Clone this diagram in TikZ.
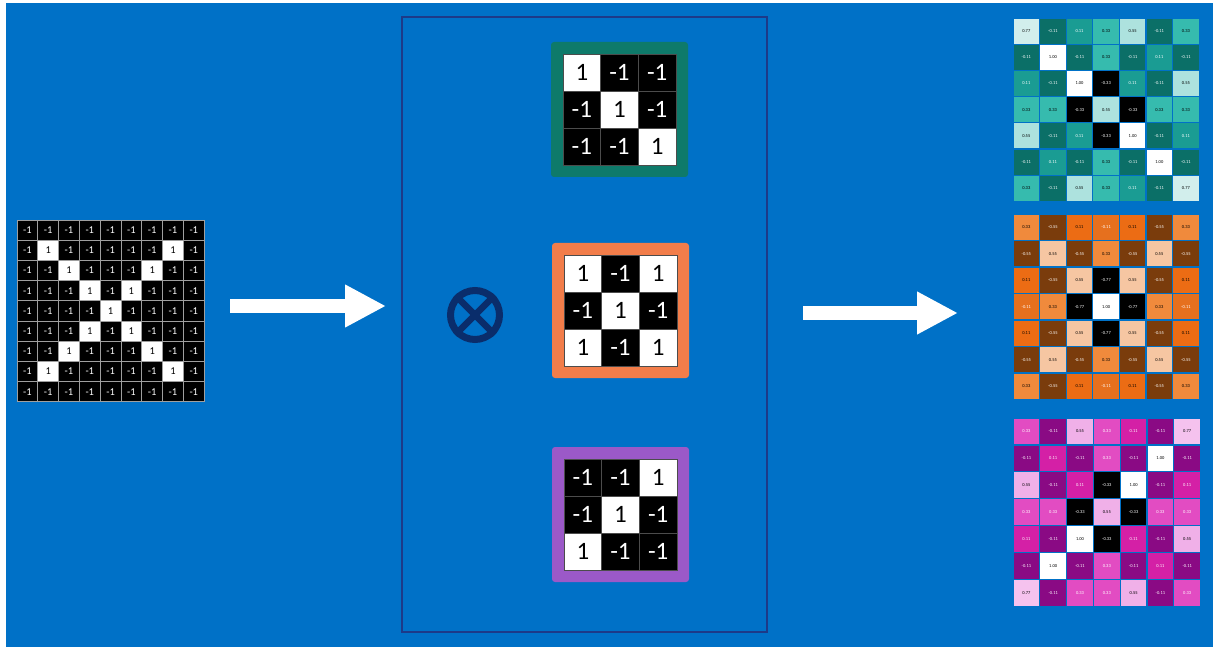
\documentclass[tikz,border=0pt]{standalone}
\usepackage{fontspec}
\setmainfont{Carlito}
\usetikzlibrary{arrows.meta}
\definecolor{bg}{HTML}{0071C7}
\definecolor{navy}{HTML}{1D3A88}
\definecolor{otc}{HTML}{0A2D6B}
\definecolor{kgreen}{HTML}{0E7A6A}
\definecolor{korange}{HTML}{F27D4A}
\definecolor{kpurple}{HTML}{9B59C8}
% teal map
\definecolor{A77}{HTML}{D2EEEC}\definecolor{A55}{HTML}{ADE2DE}\definecolor{A33}{HTML}{36BBAE}
\definecolor{A11}{HTML}{1A9C93}\definecolor{Am11}{HTML}{0B6F67}
% orange map
\definecolor{B55}{HTML}{F6C6A2}\definecolor{B33}{HTML}{F08A3C}\definecolor{B11}{HTML}{EC6C14}
\definecolor{Bm11}{HTML}{E6701E}\definecolor{Bm55}{HTML}{7A3C0C}
% magenta map
\definecolor{C77}{HTML}{F5C2EE}\definecolor{C55}{HTML}{F0B0E8}\definecolor{C33}{HTML}{E24CC2}
\definecolor{C11}{HTML}{D420A6}\definecolor{Cm11}{HTML}{8A0A84}
\newcommand\defcellstyle[4]{\expandafter\def\csname f#1#2\endcsname{#3}\expandafter\def\csname t#1#2\endcsname{#4}}
\defcellstyle{A}{1.00}{white}{black}\defcellstyle{A}{0.77}{A77}{black}\defcellstyle{A}{0.55}{A55}{black}
\defcellstyle{A}{0.33}{A33}{black}\defcellstyle{A}{0.11}{A11}{white}\defcellstyle{A}{-0.11}{Am11}{white}
\defcellstyle{A}{-0.33}{black}{white}
\defcellstyle{B}{1.00}{white}{black}\defcellstyle{B}{0.55}{B55}{black}\defcellstyle{B}{0.33}{B33}{black}
\defcellstyle{B}{0.11}{B11}{black}\defcellstyle{B}{-0.11}{Bm11}{white}\defcellstyle{B}{-0.55}{Bm55}{white}
\defcellstyle{B}{-0.77}{black}{white}
\defcellstyle{C}{1.00}{white}{black}\defcellstyle{C}{0.77}{C77}{black}\defcellstyle{C}{0.55}{C55}{black}
\defcellstyle{C}{0.33}{C33}{white}\defcellstyle{C}{0.11}{C11}{white}\defcellstyle{C}{-0.11}{Cm11}{white}
\defcellstyle{C}{-0.33}{black}{white}
% map drawer: #1 id, #2 x0, #3 y0, #4 pitch x, #5 pitch y, #6 list
\newcommand\drawfmap[6]{%
  \foreach \row [count=\i] in {#6} {%
    \foreach \v [count=\j] in \row {%
      \edef\fc{\csname f#1\v\endcsname}\edef\tc{\csname t#1\v\endcsname}%
      \node[mcell, minimum width=#4-1.2, minimum height=#5-1.2, fill=\fc, text=\tc]
        (#1-\i-\j) at ({#2+(\j-0.5)*#4},{#3+(\i-0.5)*#5}) {\v};
    }%
  }%
}
% kernel drawer: #1 id, #2 frame colour, #3 x0 outer, #4 y0 outer, #5 list
\newcommand\drawkernel[5]{%
  \node[kframe, fill=#2] (#1) at (#3+68.5,#4+67.5) {};
  \foreach \row [count=\i] in {#5} {%
    \foreach \v [count=\j] in \row {%
      \ifnum\v>0 \def\kf{white}\def\kt{black}\else\def\kf{black}\def\kt{white}\fi
      \node[kcell, fill=\kf, text=\kt] (#1-\i-\j) at ({#3+12+(\j-0.5)*37.67},{#4+12+(\i-0.5)*37}) {\v};
    }%
  }%
}
\begin{document}
\begin{tikzpicture}[x=1pt,y=-1pt,
  mcell/.style={rectangle, inner sep=0pt, font=\fontsize{4.5}{5}\selectfont},
  icell/.style={rectangle, draw=gray!75, line width=0.9pt, inner sep=0pt,
    minimum width=20.8pt, minimum height=20.2pt, font=\fontsize{10.5}{11}\selectfont},
  kcell/.style={rectangle, draw=black!70, line width=0.6pt, inner sep=0pt,
    minimum width=37.67pt, minimum height=37pt, font=\fontsize{25}{26}\selectfont},
  kframe/.style={rectangle, rounded corners=3pt, inner sep=0pt, minimum width=137pt, minimum height=135pt},
  bigarrow/.style={white, line width=14pt, -{Triangle[length=41pt,width=40pt]}}
]
\useasboundingbox (0,0) rectangle (1213,647);
\fill[white] (0,0) rectangle (1213,647);
\fill[bg] (6,3) rectangle (1213,647);

% input image 9x9
\foreach \r in {1,...,9} {
  \foreach \c in {1,...,9} {
    \pgfmathtruncatemacro\isone{(((\r==\c)||(\r+\c==10))&&(\r>1)&&(\r<9)&&(\c>1)&&(\c<9))?1:0}
    \ifnum\isone=1 \def\cf{white}\def\ct{black}\def\cv{1}\else\def\cf{black}\def\ct{white}\def\cv{-1}\fi
    \node[icell, fill=\cf, text=\ct] (in-\r-\c) at ({17+(\c-0.5)*20.8},{220+(\r-0.5)*20.2}) {\cv};
  }
}

% middle box
\node[draw=navy, line width=2.5pt, rectangle, minimum width=365pt, minimum height=615pt, inner sep=0pt] (mid) at (584.5,324.5) {};

% kernels
\drawkernel{k1}{kgreen}{551}{42}{{1,-1,-1},{-1,1,-1},{-1,-1,1}}
\drawkernel{k2}{korange}{552}{243}{{1,-1,1},{-1,1,-1},{1,-1,1}}
\drawkernel{k3}{kpurple}{552}{447}{{-1,-1,1},{-1,1,-1},{1,-1,-1}}

% convolution symbol
\node[circle, draw=otc, line width=7pt, minimum size=49pt, inner sep=0pt] (ot) at (475,315) {};
\draw[otc, line width=6.5pt] (ot.north west) -- (ot.south east);
\draw[otc, line width=6.5pt] (ot.north east) -- (ot.south west);

% arrows
\coordinate (a1s) at (230,306);
\coordinate (a1e) at (386,306);
\coordinate (a2s) at (803,313);
\coordinate (a2e) at (958,313);
\draw[bigarrow] (a1s) -- (a1e);
\draw[bigarrow] (a2s) -- (a2e);

% feature maps
\drawfmap{A}{1013}{18}{26.6}{26.2}{%
{0.77,-0.11,0.11,0.33,0.55,-0.11,0.33},%
{-0.11,1.00,-0.11,0.33,-0.11,0.11,-0.11},%
{0.11,-0.11,1.00,-0.33,0.11,-0.11,0.55},%
{0.33,0.33,-0.33,0.55,-0.33,0.33,0.33},%
{0.55,-0.11,0.11,-0.33,1.00,-0.11,0.11},%
{-0.11,0.11,-0.11,0.33,-0.11,1.00,-0.11},%
{0.33,-0.11,0.55,0.33,0.11,-0.11,0.77}}
\drawfmap{B}{1013}{214}{26.6}{26.5}{%
{0.33,-0.55,0.11,-0.11,0.11,-0.55,0.33},%
{-0.55,0.55,-0.55,0.33,-0.55,0.55,-0.55},%
{0.11,-0.55,0.55,-0.77,0.55,-0.55,0.11},%
{-0.11,0.33,-0.77,1.00,-0.77,0.33,-0.11},%
{0.11,-0.55,0.55,-0.77,0.55,-0.55,0.11},%
{-0.55,0.55,-0.55,0.33,-0.55,0.55,-0.55},%
{0.33,-0.55,0.11,-0.11,0.11,-0.55,0.33}}
\drawfmap{C}{1013}{418}{26.8}{26.9}{%
{0.33,-0.11,0.55,0.33,0.11,-0.11,0.77},%
{-0.11,0.11,-0.11,0.33,-0.11,1.00,-0.11},%
{0.55,-0.11,0.11,-0.33,1.00,-0.11,0.11},%
{0.33,0.33,-0.33,0.55,-0.33,0.33,0.33},%
{0.11,-0.11,1.00,-0.33,0.11,-0.11,0.55},%
{-0.11,1.00,-0.11,0.33,-0.11,0.11,-0.11},%
{0.77,-0.11,0.33,0.33,0.55,-0.11,0.33}}
\end{tikzpicture}
\end{document}
